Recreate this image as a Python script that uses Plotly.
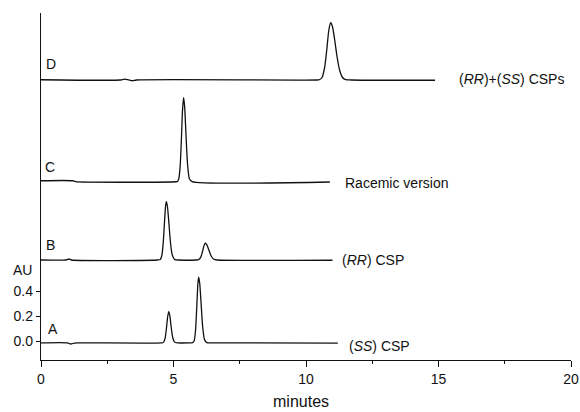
import plotly.graph_objects as go

# ---- data (minutes, AU incl. vertical offset) ----
a_t = [0, 1.0, 1.12, 1.25, 1.4, 4.55, 4.62, 4.68, 4.73, 4.78, 4.82, 4.86, 4.91, 4.97, 5.04, 5.15,
       5.6, 5.72, 5.78, 5.83, 5.88, 5.92, 5.95, 5.99, 6.04, 6.10, 6.17, 6.26, 6.45, 11.2]
a_v = [-0.015, -0.015, -0.024, -0.017, -0.015, -0.015, -0.011, 0.019, 0.095, 0.195, 0.235, 0.205, 0.115, 0.028, -0.009, -0.015,
       -0.015, -0.014, 0.002, 0.08, 0.28, 0.457, 0.51, 0.46, 0.305, 0.116, 0.011, -0.013, -0.015, -0.017]

b_t = [0, 0.95, 1.05, 1.15, 4.4, 4.5, 4.56, 4.61, 4.66, 4.70, 4.73, 4.77, 4.82, 4.88, 4.95, 5.05, 5.2,
       5.85, 5.95, 6.03, 6.10, 6.15, 6.20, 6.26, 6.33, 6.42, 6.52, 6.65, 11.0]
b_v = [0.648, 0.648, 0.656, 0.648, 0.648, 0.652, 0.684, 0.779, 0.951, 1.078, 1.115, 1.078, 0.961, 0.80, 0.69, 0.651, 0.648,
       0.648, 0.651, 0.671, 0.720, 0.763, 0.782, 0.769, 0.73, 0.68, 0.654, 0.648, 0.646]

c_t = [0, 1.2, 1.3, 5.1, 5.15, 5.2, 5.25, 5.3, 5.34, 5.38, 5.42, 5.47, 5.53, 5.6, 5.7, 10.9]
c_v = [1.282, 1.282, 1.275, 1.274, 1.277, 1.299, 1.395, 1.624, 1.845, 1.946, 1.875, 1.657, 1.415, 1.298, 1.275, 1.272]

d_t = [0, 3.0, 3.15, 3.3, 3.45, 3.6, 10.4, 10.5, 10.6, 10.7, 10.78, 10.86, 10.93, 11.0, 11.08, 11.17, 11.27,
       11.38, 11.5, 11.7, 14.87]
d_v = [2.09, 2.088, 2.095, 2.089, 2.082, 2.088, 2.088, 2.090, 2.106, 2.184, 2.322, 2.484, 2.546, 2.514, 2.413, 2.276, 2.166,
       2.108, 2.091, 2.088, 2.086]

trace_letters = ["A", "B", "C", "D"]
letter_pos = [(0.44, 0.096), (0.34, 0.768), (0.34, 1.394), (0.38, 2.216)]
trace_names = ["(<i>SS</i>) CSP", "(<i>RR</i>) CSP", "Racemic version", "(<i>RR</i>)+(<i>SS</i>) CSPs"]
name_pos = [(11.53, -0.04), (11.28, 0.648), (11.4, 1.264), (15.7, 2.10)]

x_ticks = [0, 5, 10, 15, 20]
y_ticks = [0.0, 0.2, 0.4]
y_tick_text = ["0.0", "0.2", "0.4"]
x_title = "minutes"
y_title = "AU"

FONT = "Arial, Liberation Sans, Helvetica, sans-serif"
fig = go.Figure()
for t, v in [(a_t, a_v), (b_t, b_v), (c_t, c_v), (d_t, d_v)]:
    fig.add_trace(go.Scatter(x=t, y=v, mode="lines",
                             line=dict(color="#111111", width=1.3, shape="spline", smoothing=0.6),
                             showlegend=False, hoverinfo="skip"))

for lab, (x, y) in zip(trace_letters, letter_pos):
    fig.add_annotation(x=x, y=y, xref="x", yref="y", text=lab, showarrow=False,
                       xanchor="center", yanchor="middle", font=dict(size=14, color="#111"))
for lab, (x, y) in zip(trace_names, name_pos):
    fig.add_annotation(x=x, y=y, xref="x", yref="y", text=lab, showarrow=False,
                       xanchor="left", yanchor="middle", font=dict(size=14, color="#111"))
fig.add_annotation(x=-0.0358, y=0.2594, xref="paper", yref="paper", text=y_title, showarrow=False,
                   xanchor="center", yanchor="middle", font=dict(size=14, color="#111"))
fig.add_annotation(x=0.4915, y=-0.121, xref="paper", yref="paper", text=x_title, showarrow=False,
                   xanchor="center", yanchor="middle", borderpad=0, font=dict(size=16, color="#111"))

fig.update_layout(
    width=580, height=412,
    margin=dict(l=41, r=9, t=13, b=52),
    paper_bgcolor="white", plot_bgcolor="white",
    font=dict(family=FONT, size=14, color="#111"),
    xaxis=dict(range=[0, 20], tickvals=x_ticks, ticks="outside", ticklen=6, tickwidth=1,
               tickcolor="#111", showline=True, linecolor="#111", linewidth=1.3,
               showgrid=False, zeroline=False, automargin=False,
               minor=dict(dtick=2.5, ticks="outside", ticklen=3, tickcolor="#111", showgrid=False),
               tickfont=dict(size=14)),
    yaxis=dict(range=[-0.152, 2.624], tickvals=y_ticks, ticktext=y_tick_text,
               ticks="outside", ticklen=4, tickwidth=1, tickcolor="#111",
               showline=True, linecolor="#111", linewidth=1.3, automargin=False,
               showgrid=False, zeroline=False, tickfont=dict(size=14)),
)
fig.write_html("out.html")
